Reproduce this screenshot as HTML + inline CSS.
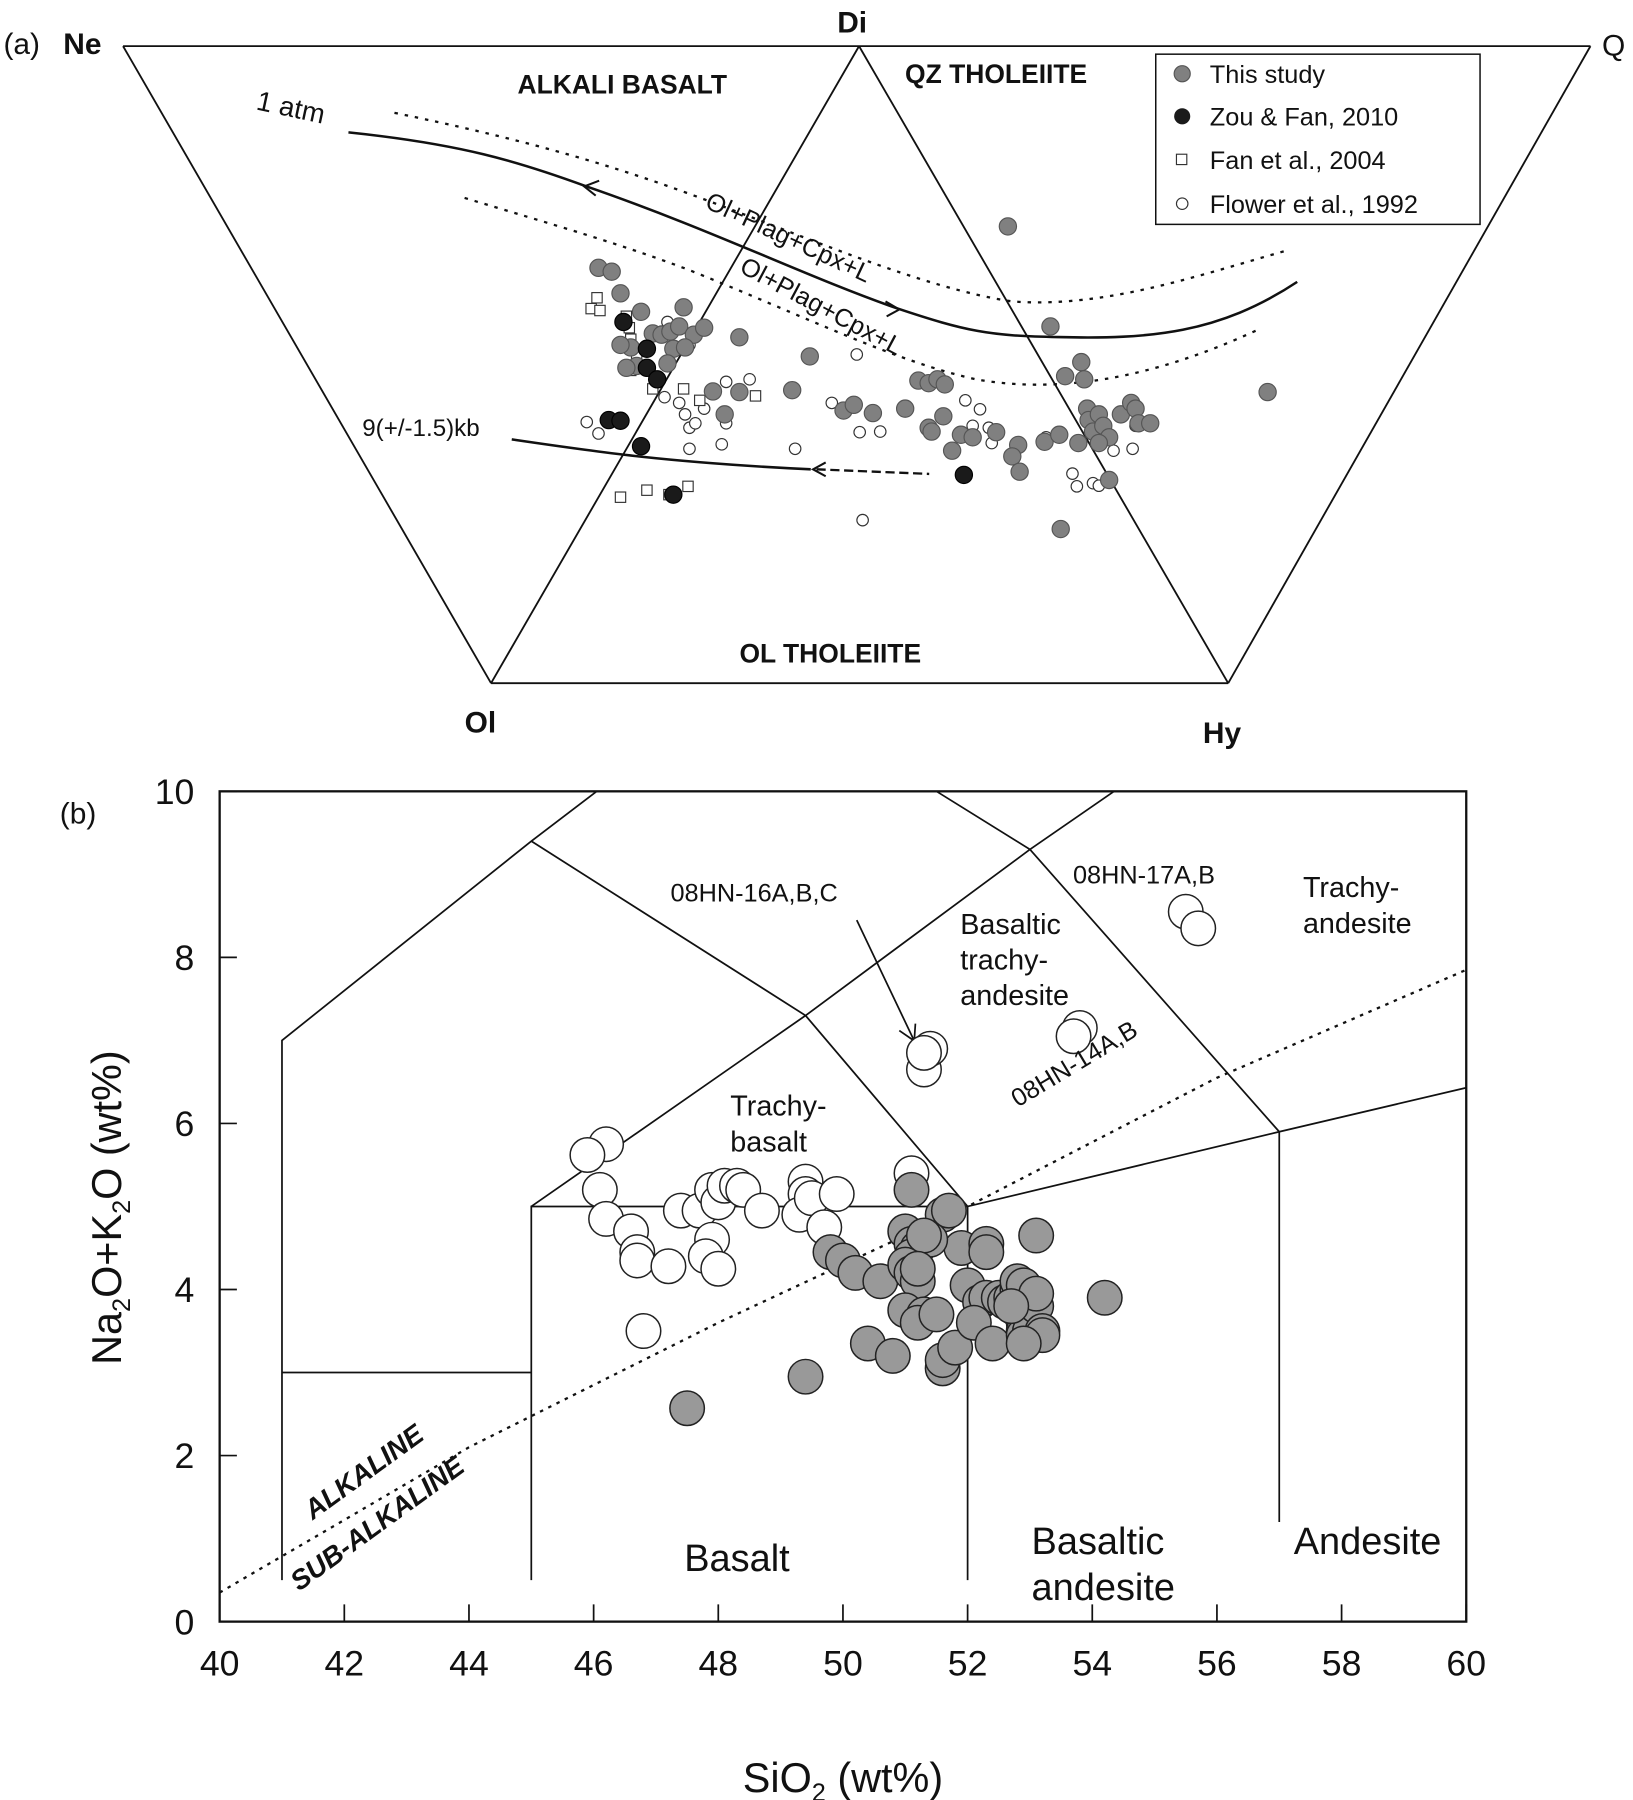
<!DOCTYPE html>
<html><head><meta charset="utf-8">
<style>
html,body{margin:0;padding:0;background:#fff;}
svg{display:block;font-family:"Liberation Sans",Arial,sans-serif;}
</style></head>
<body>
<svg id="fig" width="1633" height="1800" viewBox="0 0 1420 1565" xmlns="http://www.w3.org/2000/svg">
<g id="ta" stroke="#111" fill="none" stroke-width="1.6">
  <line x1="107" y1="40" x2="1383" y2="40"/>
  <line x1="107" y1="40" x2="427" y2="594"/>
  <line x1="1383" y1="40" x2="1068" y2="594"/>
  <line x1="427" y1="594" x2="1068" y2="594"/>
  <line x1="747" y1="40" x2="427" y2="594"/>
  <line x1="747" y1="40" x2="1068" y2="594"/>
  <path d="M303,115 C400,125 450,140 510,162 C620,200 700,240 780,268 C840,288 860,292 920,293 C1000,295 1060,290 1128,245" stroke-width="2.2"/>
  <path d="M343,98 C450,120 520,140 590,165 C700,205 800,250 880,262 C960,268 1040,240 1118,218" stroke-dasharray="3,6" stroke-width="2"/>
  <path d="M404,172 C480,195 540,212 600,235 C700,275 780,315 850,330 C920,342 1000,330 1093,287" stroke-dasharray="3,6" stroke-width="2"/>
  <path d="M445,382 C520,393 580,402 705,408" stroke-width="2.2"/>
  <line x1="710" y1="408" x2="808" y2="412" stroke-dasharray="8,4" stroke-width="2"/>
  <path d="M521,157 L508,162 L518,170" stroke-width="1.8"/>
  <path d="M770,262 L782,269 L771,275" stroke-width="1.8"/>
  <path d="M718,402 L707,408 L718,414" stroke-width="1.8"/>
</g>
<g fill="#111">
  <text x="3" y="47" font-size="26">(a)</text>
  <text x="55" y="47" font-size="26" font-weight="bold">Ne</text>
  <text x="728" y="28" font-size="26" font-weight="bold">Di</text>
  <text x="1393" y="48" font-size="26">Q</text>
  <text x="404" y="637" font-size="26" font-weight="bold">Ol</text>
  <text x="1046" y="646" font-size="26" font-weight="bold">Hy</text>
  <text x="450" y="81" font-size="23" font-weight="bold">ALKALI BASALT</text>
  <text x="787" y="72" font-size="23" font-weight="bold">QZ THOLEIITE</text>
  <text x="643" y="576" font-size="23" font-weight="bold">OL THOLEIITE</text>
  <text x="222" y="95" font-size="24" transform="rotate(12 222 95)">1 atm</text>
  <text x="612" y="180" font-size="22" transform="rotate(25 612 180)">Ol+Plag+Cpx+L</text>
  <text x="642" y="236" font-size="22" transform="rotate(28 642 236)">Ol+Plag+Cpx+L</text>
  <text x="315" y="379" font-size="21">9(+/-1.5)kb</text>
</g>
<g id="legend">
  <rect x="1005" y="47" width="282" height="148" fill="#fff" stroke="#111" stroke-width="1.3"/>
  <circle cx="1028" cy="64" r="7" fill="#808080" stroke="#555"/>
  <text x="1052" y="72" font-size="22" fill="#111">This study</text>
  <circle cx="1028" cy="101" r="7" fill="#1a1a1a"/>
  <text x="1052" y="109" font-size="22" fill="#111">Zou &amp; Fan, 2010</text>
  <rect x="1023" y="134" width="9" height="9" fill="#fff" stroke="#333"/>
  <text x="1052" y="147" font-size="22" fill="#111">Fan et al., 2004</text>
  <circle cx="1028" cy="177" r="5" fill="#fff" stroke="#333"/>
  <text x="1052" y="185" font-size="22" fill="#111">Flower et al., 1992</text>
</g>
<g id="tpts"></g>

<g id="tas"></g>
<g id="taspts"></g>
<g fill="#111">
  <text x="52" y="716" font-size="26">(b)</text>
  <text x="583" y="784" font-size="22">08HN-16A,B,C</text>
  <text x="933" y="768" font-size="22">08HN-17A,B</text>
  <text x="885" y="963" font-size="22" transform="rotate(-31 885 963)">08HN-14A,B</text>
  <g font-size="25"><text x="835" y="812">Basaltic</text><text x="835" y="843">trachy-</text><text x="835" y="874">andesite</text></g>
  <g font-size="25"><text x="1133" y="780">Trachy-</text><text x="1133" y="811">andesite</text></g>
  <g font-size="25"><text x="635" y="970">Trachy-</text><text x="635" y="1001">basalt</text></g>
  <text x="595" y="1366" font-size="33">Basalt</text>
  <g font-size="33"><text x="897" y="1351">Basaltic</text><text x="897" y="1391">andesite</text></g>
  <text x="1125" y="1351" font-size="33">Andesite</text>
  <text x="272" y="1322" font-size="24" font-weight="bold" font-style="italic" transform="rotate(-36 272 1322)">ALKALINE</text>
  <text x="260" y="1384" font-size="24" font-weight="bold" font-style="italic" transform="rotate(-36 260 1384)">SUB-ALKALINE</text>
  <text x="0" y="0" font-size="36" transform="translate(105 1050) rotate(-90)" text-anchor="middle">Na<tspan font-size="22" dy="8">2</tspan><tspan dy="-8">O+K</tspan><tspan font-size="22" dy="8">2</tspan><tspan dy="-8">O (wt%)</tspan></text>
  <text x="733" y="1558" font-size="36" text-anchor="middle">SiO<tspan font-size="22" dy="8">2</tspan><tspan dy="-8"> (wt%)</tspan></text>
</g>

<script>
// ---- Ternary data: u = % across Ne-Q top edge, v = % depth toward Ol-Hy ----
const thisStudyU=[60.3,63.2,78.0,32.4,33.3,33.9,38.2,35.3,36.1,36.7,37.3,37.9,38.9,37.5,34.6,35.0,37.1,38.3,42.0,46.8,40.2,41.0,42.0,45.6,49.1,49.8,51.1,54.2,54.9,55.5,56.0,53.3,54.9,55.1,55.9,57.1,56.5,57.9,59.5,61.0,60.6,61.1,62.8,63.8,64.2,65.3,65.5,65.7,65.8,66.1,66.5,66.8,67.2,68.0,68.7,69.0,69.2,70.0,65.1,66.5,67.2,63.9,33.9,39.6,34.3];
const thisStudyV=[28.3,44.0,54.3,34.8,35.4,38.8,41.0,41.7,45.1,45.3,44.8,44.0,45.3,47.5,47.3,50.2,49.8,47.3,45.7,48.7,54.2,57.8,54.3,54.0,57.2,56.3,57.6,52.5,52.9,52.3,53.1,56.9,59.9,60.5,58.1,61.0,63.5,61.4,60.6,62.6,64.4,66.8,62.1,61.0,51.8,49.6,52.3,56.9,58.7,60.5,57.8,59.6,61.4,57.8,56.0,56.9,59.2,59.2,62.3,62.3,68.1,75.8,46.9,44.2,50.5];
const zouU=[34.1,35.7,35.7,36.4,33.1,33.9,35.3,37.5,57.3];
const zouV=[43.3,47.5,50.5,52.3,58.7,58.8,62.8,70.4,67.3];
const fanU=[32.3,31.9,32.5,34.3,34.5,34.6,34.6,36.1,38.2,39.3,43.1,33.9,35.7,37.2,38.5,35.0];
const fanV=[39.5,41.2,41.5,42.4,44.2,46.0,50.9,53.8,53.8,55.6,54.9,70.8,69.7,70.4,69.1,48.2];
const flowerU=[37.1,36.7,38.6,36.9,37.9,38.3,38.6,39.6,41.1,42.7,41.1,40.8,31.6,32.4,45.8,50.0,48.3,50.2,51.6,57.4,58.4,57.9,59.0,59.2,62.9,64.7,65.0,66.1,66.5,67.5,68.8,69.0,50.4,38.6,39.0];
const flowerV=[43.3,44.8,46.9,55.1,56.0,57.8,59.9,56.9,52.7,52.3,59.2,62.5,59.0,60.8,63.2,48.4,56.0,60.6,60.5,55.6,57.0,59.6,59.9,62.3,61.4,67.1,69.1,68.6,69.0,63.5,63.2,59.6,74.4,63.2,59.2];

// ---- TAS data ----
const tasTicksX=[40,42,44,46,48,50,52,54,56,58,60];
const tasTicksY=[0,2,4,6,8,10];
const whiteSiO2=[46.2,45.9,46.1,46.2,46.6,46.7,46.7,47.2,47.4,47.7,47.9,48.0,48.1,48.3,48.4,48.7,47.9,47.8,48.0,46.8,49.4,49.4,49.3,49.5,49.7,49.9,51.1,51.3,51.4,51.3,53.8,53.7,55.5,55.7];
const whiteAlk=[5.75,5.62,5.2,4.85,4.7,4.45,4.35,4.28,4.95,4.95,5.2,5.05,5.25,5.25,5.2,4.95,4.6,4.4,4.25,3.5,5.3,5.15,4.9,5.1,4.75,5.15,5.4,6.65,6.9,6.85,7.15,7.05,8.55,8.35];
const graySiO2=[47.5,49.4,49.8,50.0,50.2,50.6,50.4,50.8,51.0,51.1,51.2,51.1,51.0,51.1,51.2,51.0,51.3,51.2,51.5,51.6,51.6,51.8,51.1,51.6,51.7,51.9,52.0,52.3,52.3,52.2,52.3,52.1,52.4,52.5,52.6,52.7,52.8,52.8,52.9,52.8,52.9,52.9,52.9,53.0,53.1,53.2,53.2,53.1,53.1,52.9,54.2,51.4,51.3,51.2,52.7];
const grayAlk=[2.57,2.95,4.45,4.35,4.2,4.1,3.35,3.2,4.7,4.55,4.5,4.4,4.3,4.2,4.1,3.75,3.7,3.6,3.7,3.05,3.15,3.3,5.2,4.9,4.95,4.5,4.05,4.55,4.45,3.85,3.9,3.6,3.35,3.9,3.85,3.9,4.0,4.1,4.05,3.75,3.6,3.5,3.45,3.5,3.8,3.5,3.45,4.65,3.95,3.35,3.9,4.6,4.65,4.25,3.8];
const alkLineX=[40,44,48,52,56,60];
const alkLineY=[0.35,2.1,3.6,5.0,6.55,7.85];

const NS='http://www.w3.org/2000/svg';
function mk(tag,attrs,parent){const e=document.createElementNS(NS,tag);for(const k in attrs)e.setAttribute(k,attrs[k]);parent.appendChild(e);return e;}
const tu=u=>107+u*(1383-107)/100;
const tv=v=>40+v*(594-40)/100;
const tg=document.getElementById('tpts');
flowerU.forEach((u,i)=>{const c=mk('circle',{cx:tu(u),cy:tv(flowerV[i]),r:5,fill:'#fff',stroke:'#333','stroke-width':1},tg);

});
fanU.forEach((u,i)=>{const r=mk('rect',{x:tu(u)-4.5,y:tv(fanV[i])-4.5,width:9,height:9,fill:'#fff',stroke:'#333','stroke-width':1},tg);

});
thisStudyU.forEach((u,i)=>{const c=mk('circle',{cx:tu(u),cy:tv(thisStudyV[i]),r:7.5,fill:'#808080',stroke:'#555','stroke-width':1},tg);

});
zouU.forEach((u,i)=>{const c=mk('circle',{cx:tu(u),cy:tv(zouV[i]),r:7.5,fill:'#1a1a1a',stroke:'#000','stroke-width':1},tg);

});

const X0=191,X1=1275,Y0=1410,Y1=688;
const sx=v=>X0+(v-40)*(X1-X0)/20;
const sy=v=>Y0-v*(Y0-Y1)/10;
const g=document.getElementById('tas');
const fr=mk('rect',{x:X0,y:Y1,width:X1-X0,height:Y0-Y1,fill:'none',stroke:'#111','stroke-width':2},g);


tasTicksX.forEach(t=>{const l=mk('line',{x1:sx(t),x2:sx(t),y1:Y0,y2:Y0-15,stroke:'#111','stroke-width':1.5},g);


const tx=mk('text',{x:sx(t),y:Y0+47,'font-size':31,'text-anchor':'middle',fill:'#111'},g);tx.textContent=t;

});
tasTicksY.forEach(t=>{const l=mk('line',{x1:X0,x2:X0+15,y1:sy(t),y2:sy(t),stroke:'#111','stroke-width':1.5},g);


const tx=mk('text',{x:X0-22,y:sy(t)+11,'font-size':31,'text-anchor':'end',fill:'#111'},g);tx.textContent=t;

});
const fields=[
 [[41,0.5],[41,7],[45,9.4],[46.05,10]],
 [[45,9.4],[49.4,7.3],[52,5],[57,5.9],[60,6.43]],
 [[45,0.5],[45,5],[52,5],[52,0.5]],
 [[41,3],[45,3]],
 [[45,5],[49.4,7.3],[53,9.3],[54.35,10]],
 [[51.5,10],[53,9.3],[57,5.9],[57,1.2]]
];
fields.forEach(f=>{const p=mk('polyline',{points:f.map(q=>sx(q[0])+','+sy(q[1])).join(' '),fill:'none',stroke:'#111','stroke-width':1.5},g);

});
const al=mk('polyline',{points:alkLineX.map((x,i)=>sx(x)+','+sy(alkLineY[i])).join(' '),fill:'none',stroke:'#111','stroke-width':2,'stroke-dasharray':'3,5'},g);


const ar=mk('path',{d:'M745,800 L795,905 M782,896 L795,905 L796,890',fill:'none',stroke:'#111','stroke-width':1.5},g);


const pg=document.getElementById('taspts');
whiteSiO2.forEach((s,i)=>{const c=mk('circle',{cx:sx(s),cy:sy(whiteAlk[i]),r:15,fill:'#fff',stroke:'#222','stroke-width':1.3},pg);

});
graySiO2.forEach((s,i)=>{const c=mk('circle',{cx:sx(s),cy:sy(grayAlk[i]),r:15,fill:'#999',stroke:'#222','stroke-width':1.3},pg);

});
</script>
</svg>
</body></html>
